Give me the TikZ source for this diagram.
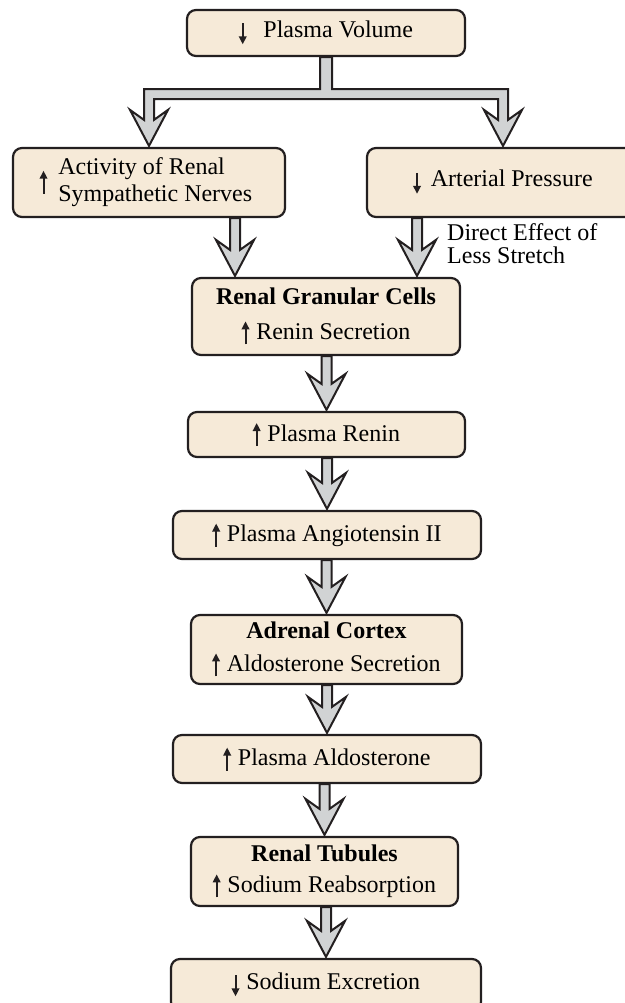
\documentclass[tikz,border=0pt]{standalone}
\usepackage{fontspec}
\setmainfont{Liberation Serif}
\usetikzlibrary{calc,arrows.meta}

\definecolor{boxfill}{RGB}{246,234,216}
\definecolor{ink}{RGB}{35,31,32}
\definecolor{flowgray}{RGB}{209,211,212}

\tikzset{
	stepbox/.style={draw=ink, fill=boxfill, line width=2.2pt, rounded corners=9pt, inner sep=0pt, align=center, font=\fontsize{24pt}{27pt}\selectfont},
	flowarr/.style={draw=ink, fill=flowgray, line width=2pt, line join=miter},
	tick/.style={line width=2pt, draw=ink, -{Triangle[length=8pt,width=7.5pt]}}
}

% small up / down marks in front of a text
\def\incr{\tikz[baseline=0pt]\draw[tick] (0,-5pt) -- (0,18pt);\hspace{7pt}}
\def\decr{\tikz[baseline=0pt]\draw[tick] (0,14pt) -- (0,-7pt);\hspace{7pt}}

% broad grey arrow from one box down to the next
\newcommand\flow[3][0pt]{\draw[flowarr] let \p1=(#2.south), \p2=($(#3.north)+(#1,0)$) in (\x2-5pt,\y1) -- (\x2-5pt,\y2+27pt) -- (\x2-19pt,\y2+37pt) -- (\x2,\y2+1pt) -- (\x2+19pt,\y2+37pt) -- (\x2+5pt,\y2+27pt) -- (\x2+5pt,\y1) -- cycle;}

\begin{document}
\begin{tikzpicture}[x=1pt, y=-1pt]
			%%%%% START %%%%%
			\useasboundingbox (0, 0) rectangle (624, 1003);
			
			\node[stepbox, minimum width=278pt, minimum height=46pt] (pv) at (326, 33) {\decr\hspace{10pt}Plasma Volume};
			
			\node[stepbox, minimum width=272pt, minimum height=69pt] (sym) at (149, 182.5) {\incr\hspace{4pt}\begin{tabular}{@{}l@{}}Activity of Renal\\Sympathetic Nerves\end{tabular}\hspace{6pt}};
			\node[stepbox, minimum width=272pt, minimum height=69pt] (art) at (503, 182.5) {\decr\hspace{3pt}Arterial Pressure};
			\node[anchor=base west, align=left, inner sep=0pt, font=\fontsize{24pt}{23pt}\selectfont] (stretch) at (447, 263) {Direct Effect of\\Less Stretch};
			
			\node[stepbox, minimum width=268pt, minimum height=77pt] (rgc) at (326, 316.5) {\textbf{Renal Granular Cells}\\[8pt]\incr Renin Secretion};
			\node[stepbox, minimum width=277pt, minimum height=45pt] (pr) at (326.5, 434.5) {\incr Plasma Renin};
			\node[stepbox, minimum width=308pt, minimum height=48pt] (pa) at (327, 535) {\incr Plasma Angiotensin II};
			\node[stepbox, minimum width=271pt, minimum height=69pt] (ac) at (326.5, 649.5) {\textbf{Adrenal Cortex}\\[6pt]\incr Aldosterone Secretion};
			\node[stepbox, minimum width=308pt, minimum height=48pt] (pal) at (327, 759) {\incr Plasma Aldosterone};
			\node[stepbox, minimum width=267pt, minimum height=69pt] (rt) at (324.5, 871.5) {\textbf{Renal Tubules}\\[4pt]\incr Sodium Reabsorption};
			\node[stepbox, minimum width=310pt, minimum height=52pt] (se) at (326, 985) {\decr Sodium Excretion};
			
			% split below the plasma volume box
			\draw[flowarr] let \p1=(pv.south), \p2=(sym.north), \p3=(art.north) in
				(\x1-6pt,\y1) -- (\x1-6pt,\y1-32pt) -- (\x2-5pt,\y1-32pt) -- (\x2-5pt,\y2+27pt) -- (\x2-19pt,\y2+37pt) -- (\x2,\y2+1pt)
				-- (\x2+19pt,\y2+37pt) -- (\x2+5pt,\y2+27pt) -- (\x2+5pt,\y1-42pt) -- (\x3-5pt,\y1-42pt) -- (\x3-5pt,\y3+27pt)
				-- (\x3-19pt,\y3+37pt) -- (\x3,\y3+1pt) -- (\x3+19pt,\y3+37pt) -- (\x3+5pt,\y3+27pt) -- (\x3+5pt,\y1-32pt)
				-- (\x1+6pt,\y1-32pt) -- (\x1+6pt,\y1) -- cycle;
			
			\flow[-91pt]{sym}{rgc}
			\flow[91pt]{art}{rgc}
			\flow{rgc}{pr}
			\flow{pr}{pa}
			\flow{pa}{ac}
			\flow{ac}{pal}
			\flow{pal}{rt}
			\flow{rt}{se}
			
			%%%%% END %%%%%
		\end{tikzpicture}
\end{document}
